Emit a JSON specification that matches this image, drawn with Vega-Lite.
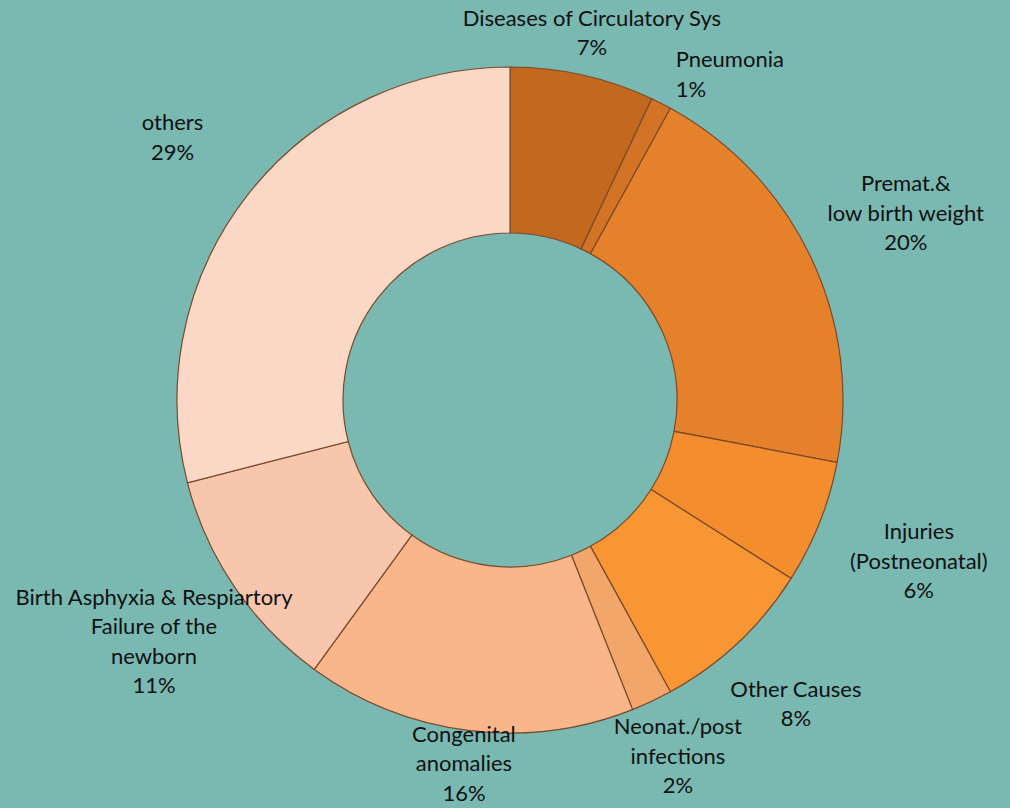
{
  "$schema": "https://vega.github.io/schema/vega-lite/v6.json",
  "width": 1000,
  "height": 800,
  "autosize": {"type": "none"},
  "padding": {"left": 10, "top": 0, "right": 0, "bottom": 8},
  "background": "#7AB8B2",
  "view": {"stroke": null},
  "data": {
    "values": [
      {"idx": 1, "cause": "Diseases of Circulatory Sys", "pct": 7, "label": "Diseases of Circulatory Sys\n7%"},
      {"idx": 2, "cause": "Pneumonia", "pct": 1, "label": "Pneumonia\n1%"},
      {"idx": 3, "cause": "Premat.& low birth weight", "pct": 20, "label": "Premat.&\nlow birth weight\n20%"},
      {"idx": 4, "cause": "Injuries (Postneonatal)", "pct": 6, "label": "Injuries\n(Postneonatal)\n6%"},
      {"idx": 5, "cause": "Other Causes", "pct": 8, "label": "Other Causes\n8%"},
      {"idx": 6, "cause": "Neonat./post infections", "pct": 2, "label": "Neonat./post\ninfections\n2%"},
      {"idx": 7, "cause": "Congenital anomalies", "pct": 16, "label": "Congenital\nanomalies\n16%"},
      {"idx": 8, "cause": "Birth Asphyxia & Respiartory Failure of the newborn", "pct": 11, "label": "Birth Asphyxia & Respiartory\nFailure of the\nnewborn\n11%"},
      {"idx": 9, "cause": "others", "pct": 29, "label": "others\n29%"}
    ]
  },
  "encoding": {
    "theta": {"field": "pct", "type": "quantitative", "stack": true},
    "order": {"field": "idx", "type": "quantitative"}
  },
  "layer": [
    {
      "mark": {"type": "arc", "outerRadius": 333, "innerRadius": 167, "stroke": "#7a4a2a", "strokeWidth": 1.2},
      "encoding": {
        "color": {
          "field": "cause",
          "type": "nominal",
          "sort": null,
          "scale": {
            "domain": ["Diseases of Circulatory Sys", "Pneumonia", "Premat.& low birth weight", "Injuries (Postneonatal)", "Other Causes", "Neonat./post infections", "Congenital anomalies", "Birth Asphyxia & Respiartory Failure of the newborn", "others"],
            "range": ["#C2681F", "#D27326", "#E6812B", "#F38D2E", "#F79632", "#F3A66A", "#F8B68A", "#F7C6AC", "#FBD8C6"]
          },
          "legend": null
        }
      }
    },
    {
      "mark": {
        "type": "text",
        "radius": {"expr": "(sin(scale('theta', 0.5 * datum.pct_start + 0.5 * datum.pct_end)) > 0.3 && cos(scale('theta', 0.5 * datum.pct_start + 0.5 * datum.pct_end)) > 0.7) ? 365 : 356 + 90 * abs(sin(scale('theta', 0.5 * datum.pct_start + 0.5 * datum.pct_end)))"},
        "align": {"expr": "(sin(scale('theta', 0.5 * datum.pct_start + 0.5 * datum.pct_end)) > 0.3 && cos(scale('theta', 0.5 * datum.pct_start + 0.5 * datum.pct_end)) > 0.7) ? 'left' : 'center'"},
        "dy": {"expr": "-(length(split(datum.label, '\\n')) - 1) * 29.5 / 2"},
        "lineBreak": "\n",
        "font": "Lato",
        "fontSize": 22,
        "color": "#111111",
        "baseline": "middle",
        "lineHeight": 29.5
      },
      "encoding": {"text": {"field": "label", "type": "nominal"}}
    }
  ]
}
